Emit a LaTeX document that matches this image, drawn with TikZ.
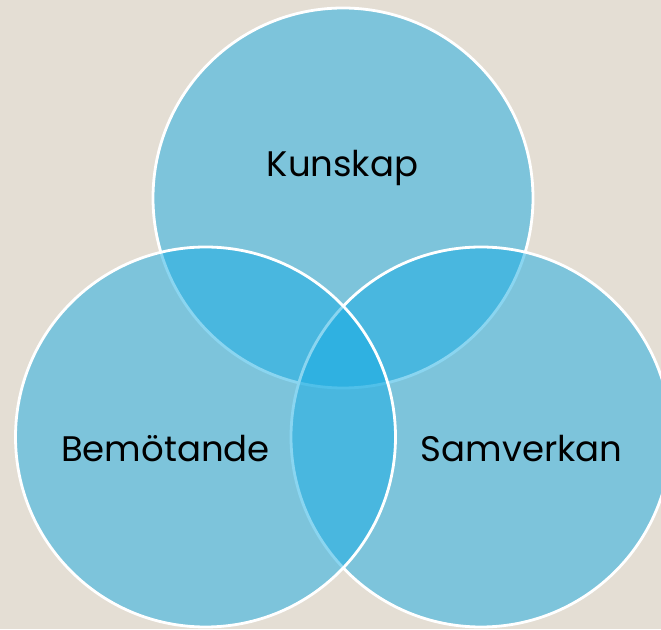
\documentclass[tikz,border=0pt]{standalone}
\usepackage{fontspec}
\setmainfont{Poppins}
\definecolor{bgc}{RGB}{228,222,212}
\definecolor{circc}{RGB}{23,172,227}
\begin{document}
\begin{tikzpicture}[x=1pt,y=1pt,
  venn/.style={circle, minimum size=380pt, inner sep=0pt, fill=circc, fill opacity=0.5, draw=white, draw opacity=1, line width=2.8pt},
  lbl/.style={anchor=base, text=black, font=\fontsize{35.5}{42}\selectfont, inner sep=0pt}]
\useasboundingbox (0,0) rectangle (661,629);
\fill[bgc] (0,0) rectangle (661,629);
\clip (0,0) rectangle (661,629);
\node[venn] (top) at (343,431) {};
\node[venn] (right) at (481,192) {};
\node[venn] (left) at (205.5,192) {};
\node[lbl] (kunskap) at (342.5,452) {Kunskap};
\node[lbl] (bemotande) at (165.5,167) {Bemötande};
\node[lbl] (samverkan) at (521.5,167) {Samverkan};
\end{tikzpicture}
\end{document}
